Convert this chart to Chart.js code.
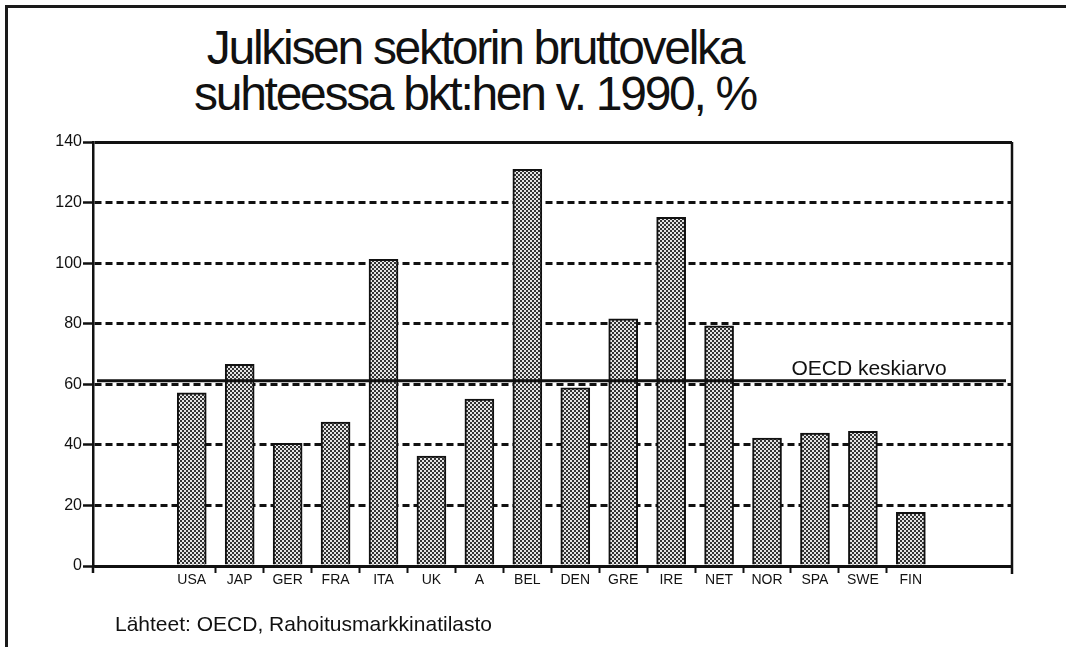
<!DOCTYPE html>
<html>
<head>
<meta charset="utf-8">
<script src="https://cdn.jsdelivr.net/npm/chart.js@4.4.1/dist/chart.umd.min.js"></script>
<style>
html, body { margin: 0; padding: 0; background: #fff; overflow: hidden; }
#wrap { position: relative; width: 1066px; height: 647px; overflow: hidden; }
#frame { position: absolute; left: 5px; top: 5px; width: 1200px; height: 800px;
  border-left: 3px solid #1a1a1a; border-top: 3px solid #1a1a1a; }
#title { position: absolute; left: 0; top: 25px; width: 950px; text-align: center;
  font: 48px/46px "Liberation Sans", Arial, sans-serif; letter-spacing: -2.3px; color: #111; }
#source { position: absolute; left: 115px; top: 612px;
  font: 21px/24px "Liberation Sans", Arial, sans-serif; color: #111; }
#chart { position: absolute; left: 0; top: 0; width: 1066px; height: 647px; }
</style>
</head>
<body>
<div id="wrap">
  <div id="frame"></div>
  <div id="title">Julkisen sektorin bruttovelka<br>suhteessa bkt:hen v. 1990, %</div>
  <div id="chart"><canvas id="c"></canvas></div>
  <div id="source">Lähteet: OECD, Rahoitusmarkkinatilasto</div>
</div>
<script>
// Data
const countries = ['USA', 'JAP', 'GER', 'FRA', 'ITA', 'UK', 'A', 'BEL', 'DEN', 'GRE', 'IRE', 'NET', 'NOR', 'SPA', 'SWE', 'FIN'];
const debtRatio = [57.2, 66.6, 40.5, 47.5, 101.3, 36.3, 55.1, 131.0, 58.8, 81.6, 115.1, 79.3, 42.2, 43.9, 44.5, 17.7];
const oecdAverage = 61.2;
const yMin = 0, yMax = 140, yStep = 20;

const ink = '#111';
const font = '"Liberation Sans", Arial, sans-serif';

// dithered grey fill like the old printout
function dither() {
  const c = document.createElement('canvas');
  c.width = 4; c.height = 4;
  const g = c.getContext('2d');
  g.fillStyle = '#e4e4e4'; g.fillRect(0, 0, 4, 4);
  g.fillStyle = '#333'; g.fillRect(0, 0, 2, 2); g.fillRect(2, 2, 2, 2);
  return g.createPattern(c, 'repeat');
}

const oecdLine = {
  id: 'oecdLine',
  afterDatasetsDraw(chart) {
    const { ctx, chartArea: a, scales: { y } } = chart;
    const py = y.getPixelForValue(oecdAverage);
    ctx.save();
    ctx.strokeStyle = ink; ctx.lineWidth = 3;
    ctx.beginPath(); ctx.moveTo(a.left + 4, py); ctx.lineTo(a.right - 6, py); ctx.stroke();
    ctx.fillStyle = ink;
    ctx.font = '21px ' + font;
    ctx.textAlign = 'center'; ctx.textBaseline = 'alphabetic';
    ctx.fillText('OECD keskiarvo', a.right - 143, py - 6);
    ctx.restore();
  }
};

const frameLines = {
  id: 'frameLines',
  afterDraw(chart) {
    const { ctx, chartArea: a } = chart;
    ctx.save();
    ctx.strokeStyle = ink; ctx.lineWidth = 2.5;
    ctx.beginPath();
    ctx.moveTo(a.right, a.top); ctx.lineTo(a.right, a.bottom + 8);
    ctx.moveTo(a.left, a.bottom); ctx.lineTo(a.left, a.bottom + 7);
    ctx.stroke();
    ctx.restore();
  }
};

new Chart(document.getElementById('c'), {
  type: 'bar',
  data: {
    datasets: [{
      data: countries.map((c, i) => ({ x: i, y: debtRatio[i] })),
      backgroundColor: dither(),
      borderColor: ink,
      borderWidth: 2,
      barThickness: 29
    }]
  },
  options: {
    responsive: true,
    maintainAspectRatio: false,
    animation: false,
    devicePixelRatio: 1,
    layout: { padding: { left: 0, right: 54, top: 142, bottom: 51 } },
    plugins: { legend: { display: false }, tooltip: { enabled: false } },
    scales: {
      x: {
        type: 'linear',
        min: -2.06, max: 17.11,
        offset: false,
        afterBuildTicks: s => { s.ticks = countries.map((c, i) => ({ value: i })); },
        afterFit: s => { s.height = 30; },
        ticks: {
          autoSkip: false, maxRotation: 0, padding: -1,
          color: ink, font: { family: font, size: 14 },
          callback: v => countries[v]
        },
        grid: {
          offset: true, drawOnChartArea: false, drawTicks: true,
          tickLength: 7, tickWidth: 2,
          tickColor: ctx => (ctx.index > 0 ? ink : 'rgba(0,0,0,0)')
        },
        border: { display: true, color: ink, width: 2.5 }
      },
      y: {
        min: yMin, max: yMax,
        afterFit: s => { s.width = 93; },
        ticks: { stepSize: yStep, padding: 1, color: ink, font: { family: font, size: 16 } },
        grid: {
          color: ink, lineWidth: 3,
          drawTicks: true, tickLength: 10, tickWidth: 2.5, tickColor: ink
        },
        border: {
          display: true, color: ink, width: 2.5,
          dash: ctx => (ctx.tick && (ctx.tick.value === yMin || ctx.tick.value === yMax)) ? [] : [7, 4]
        }
      }
    }
  },
  plugins: [oecdLine, frameLines]
});
</script>
</body>
</html>
